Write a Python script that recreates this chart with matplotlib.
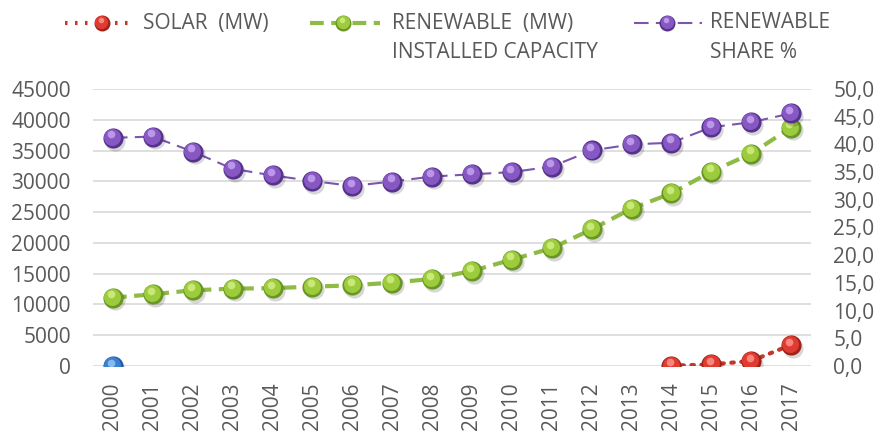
import numpy as np
import matplotlib.pyplot as plt
from matplotlib.lines import Line2D
from matplotlib.transforms import ScaledTranslation

plt.rcParams['font.family'] = ['Open Sans', 'DejaVu Sans']

years = [str(y) for y in range(2000, 2018)]
solar_mw = [0] + [np.nan] * 13 + [40, 249, 819, 3420]
renewable_mw = [11100, 11650, 12300, 12560, 12650, 12890, 13110, 13540, 14140,
                15440, 17280, 19130, 22200, 25560, 28060, 31570, 34500, 38730]
renewable_share = [41.2, 41.4, 38.7, 35.6, 34.4, 33.4, 32.5, 33.3, 34.2,
                   34.6, 35.0, 36.0, 38.9, 40.0, 40.3, 43.1, 44.0, 45.6]
left_ticks = list(range(0, 45001, 5000))
right_ticks = [0, 5, 10, 15, 20, 25, 30, 35, 40, 45, 50]

TXT = '#595959'
FS = 15
FSX = 15

fig = plt.figure(figsize=(8.77, 4.32), dpi=100)
ax = fig.add_axes([93/877, 1-366/432, (811-93)/877, (366-89)/432])
ax2 = ax.twinx()
x = np.arange(len(years))


def sphere(a, xs, ys, base, light, dark, z):
    xs = np.asarray(xs, float); ys = np.asarray(ys, float)
    sh = a.transData + ScaledTranslation(1.5/72, -2/72, fig.dpi_scale_trans)
    a.plot(xs, ys, ls='none', marker='o', ms=14.5, mfc='#00000028', mec='none',
           transform=sh, zorder=z)
    a.plot(xs, ys, ls='none', marker='o', ms=14.5, mfc=dark, mec='none', zorder=z+0.1)
    t1 = a.transData + ScaledTranslation(-0.5/72, 0.7/72, fig.dpi_scale_trans)
    a.plot(xs, ys, ls='none', marker='o', ms=12.2, mfc=base, mec='none', transform=t1, zorder=z+0.2)
    t2 = a.transData + ScaledTranslation(-1.2/72, 2.4/72, fig.dpi_scale_trans)
    a.plot(xs, ys, ls='none', marker='o', ms=5.5, mfc=light, mec='none', alpha=0.8,
           transform=t2, zorder=z+0.3)


# grid
ax.set_ylim(0, 45000)
ax.set_xlim(-0.5, len(years) - 0.5)
ax.set_yticks(left_ticks)
ax.grid(axis='y', color='#d9d9d9', lw=1.2)
ax.set_axisbelow(True)
ax.set_xticks(x)
ax.set_xticklabels(years, rotation=90, color=TXT, fontsize=FSX, va='top')
ax.tick_params(axis='x', length=0, pad=12)
ax.tick_params(axis='y', length=0, pad=16, labelcolor=TXT, labelsize=FS)
ax.set_yticklabels([str(v) for v in left_ticks])

# renewable MW
ax.plot(x, renewable_mw, ls=(0, (3.3, 1.8)), color='#8dbb45', lw=3, zorder=3)
sphere(ax, x, renewable_mw, '#9ccc3c', '#d6f08a', '#6a9626', 4)

# solar MW
ax.plot(x, solar_mw, ls=(0, (0.6, 1.8)), color='#c0392b', lw=3, dash_capstyle='round', zorder=5)
sphere(ax, x[1:], solar_mw[1:], '#e03b30', '#ff9a90', '#9e231b', 6)
sphere(ax, x[:1], solar_mw[:1], '#3a80d0', '#9cc8f5', '#245a99', 6)

# renewable share (right axis)
ax2.set_ylim(0, 50)
ax2.set_yticks(right_ticks)
ax2.set_yticklabels([f'{v:.1f}'.replace('.', ',') for v in right_ticks])
ax2.tick_params(axis='y', length=0, pad=16, labelcolor=TXT, labelsize=FS)
ax2.plot(x, renewable_share, ls=(0, (7, 3.5)), color='#7a56ad', lw=1.5, zorder=3)
sphere(ax2, x, renewable_share, '#8758c4', '#c9a8f0', '#56338a', 4)

for a in (ax, ax2):
    for s in a.spines.values():
        s.set_visible(False)


# legend
def leg_handle(x0, x1, xm, y, color, ls, lw, base, light, dark):
    fig.add_artist(Line2D([x0/877, x1/877], [y, y], color=color, ls=ls, lw=lw,
                          transform=fig.transFigure))
    xm = xm / 877
    fig.add_artist(Line2D([xm], [y], ls='none', marker='o', ms=11.5, mfc=dark, mec='none',
                          transform=fig.transFigure))
    fig.add_artist(Line2D([xm - 0.5/877], [y + 0.7/432], ls='none', marker='o', ms=9.5,
                          mfc=base, mec='none', transform=fig.transFigure))
    fig.add_artist(Line2D([xm - 1.5/877], [y + 2.8/432], ls='none', marker='o', ms=4,
                          mfc=light, mec='none', alpha=0.8, transform=fig.transFigure))


ly1 = 1 - 23/432
ly2 = 1 - 52/432
leg_handle(65, 130, 102, ly1, '#c0392b', (0, (0.6, 1.8)), 3, '#e03b30', '#ff9a90', '#9e231b')
fig.text(143/877, ly1, 'SOLAR  (MW)', color=TXT, fontsize=FS, va='center', ha='left')
leg_handle(310, 380, 343, ly1, '#8dbb45', (0, (3.3, 1.8)), 3, '#9ccc3c', '#d6f08a', '#6a9626')
fig.text(392/877, ly1, 'RENEWABLE  (MW)', color=TXT, fontsize=FS, va='center', ha='left')
fig.text(392/877, ly2, 'INSTALLED CAPACITY', color=TXT, fontsize=FS, va='center', ha='left')
leg_handle(634, 702, 667, ly1, '#7a56ad', (0, (7, 3.5)), 1.5, '#8758c4', '#c9a8f0', '#56338a')
fig.text(710/877, ly1, 'RENEWABLE', color=TXT, fontsize=FS, va='center', ha='left')
fig.text(710/877, ly2, 'SHARE %', color=TXT, fontsize=FS, va='center', ha='left')

fig.savefig('out.png', dpi=100)
